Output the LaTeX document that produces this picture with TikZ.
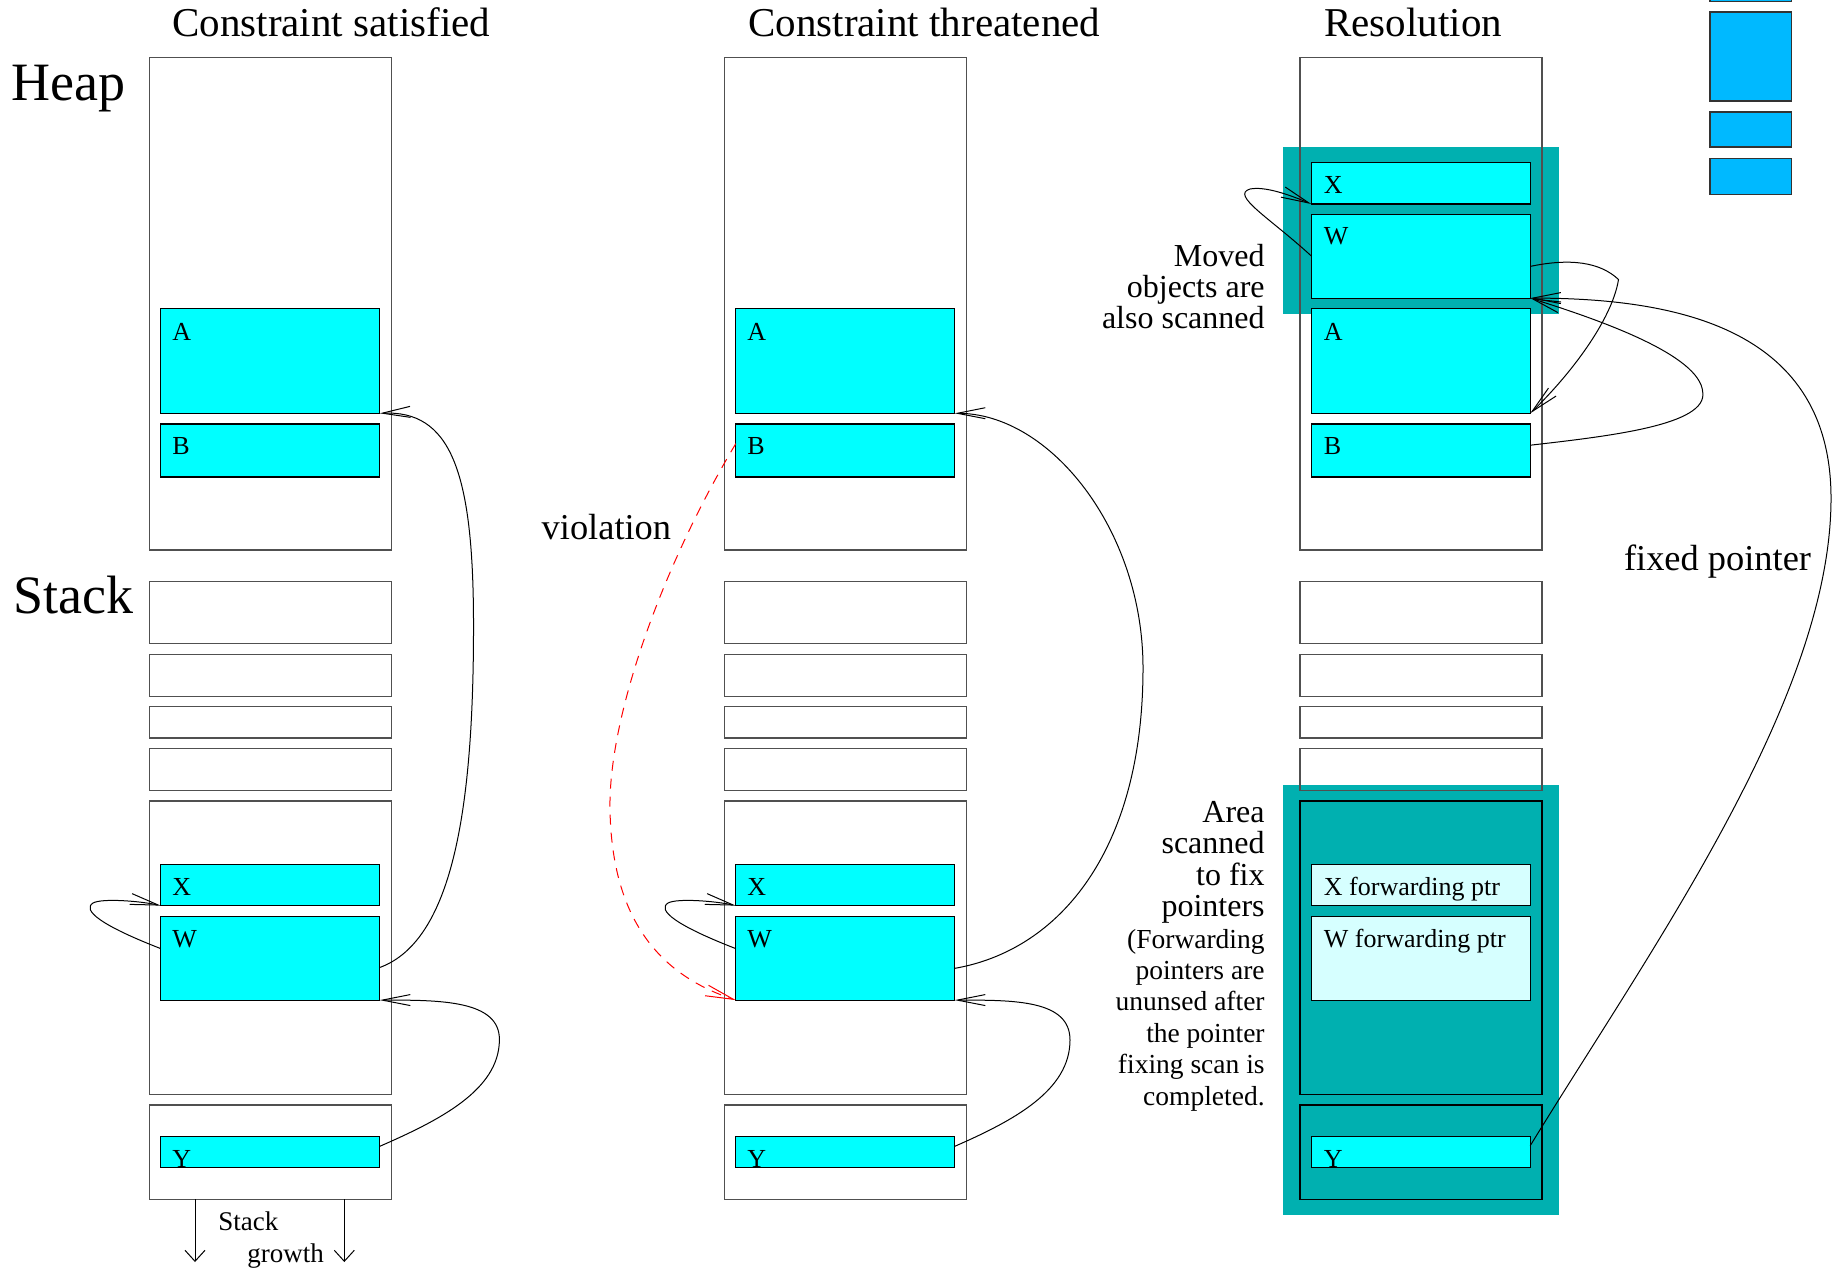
\documentclass[tikz,border=0pt]{standalone}
\usepackage{fontspec}
\setmainfont{Liberation Serif}
\usetikzlibrary{arrows.meta,fit,calc}
\definecolor{objcyan}{HTML}{00FFFF}
\definecolor{scanteal}{HTML}{00B0B0}
\definecolor{fwdcyan}{HTML}{D6FFFF}
\definecolor{legendblue}{HTML}{00B9FF}
\definecolor{cellframe}{HTML}{505050}

% one memory column: heap area and the stack frames below it
% #1 = name suffix, #2 = left edge, #3 = outline colour of the two lower frames
\newcommand\memcolumn[3]{%
  \node[cellbox, fit={(#2,57.4) ({#2+242},549.9)}] (heap#1) {};
  \node[cellbox, fit={(#2,581.3) ({#2+242},643.8)}] (sa#1) {};
  \node[cellbox, fit={(#2,654.4) ({#2+242},696.2)}] (sb#1) {};
  \node[cellbox, fit={(#2,706.8) ({#2+242},738)}] (sc#1) {};
  \node[cellbox, fit={(#2,748.6) ({#2+242},790.2)}] (sd#1) {};
  \node[cellbox, draw=#3, fit={(#2,801) ({#2+242},1094.4)}] (frame#1) {};
  \node[cellbox, draw=#3, fit={(#2,1105) ({#2+242},1199.2)}] (bottom#1) {};
}
% object box: #1 style, #2 name, #3 column left edge, #4 top, #5 bottom
\newcommand\objbox[5]{%
  \node[#1, fit={({#3+11.3},#4) ({#3+230.2},#5)}] (#2) {};
}

\begin{document}
\begin{tikzpicture}[x=0.5pt,y=-0.5pt,
  cellbox/.style={draw=cellframe, line width=0.6pt, inner sep=0pt, outer sep=0pt},
  objcell/.style={draw=black, line width=0.6pt, fill=objcyan, inner sep=0pt, outer sep=0pt},
  fwdcell/.style={objcell, fill=fwdcyan},
  legendbox/.style={draw=black!80, line width=0.6pt, fill=legendblue, inner sep=0pt, outer sep=0pt},
  zonebox/.style={fill=scanteal, inner sep=0pt, outer sep=0pt},
  lbltext/.style={anchor=base west, inner sep=0pt, font=\fontsize{13}{15}\selectfont},
  headtext/.style={anchor=base west, inner sep=0pt, font=\fontsize{20.5}{24}\selectfont},
  bigtext/.style={anchor=base west, inner sep=0pt, font=\fontsize{27}{30}\selectfont},
  midtext/.style={anchor=base west, inner sep=0pt, font=\fontsize{18.2}{21}\selectfont},
  movedtext/.style={anchor=base east, inner sep=0pt, font=\fontsize{16}{18}\selectfont},
  notetext/.style={anchor=base east, inner sep=0pt, font=\fontsize{13.75}{16}\selectfont},
  ptrline/.style={line width=0.5pt, -{Straight Barb[length=14pt,width=5.5pt]}},
  violline/.style={ptrline, red, dash pattern=on 5pt off 4pt},
  growarrow/.style={line width=0.5pt, -{Straight Barb[length=5.5pt,width=10pt]}}]
\useasboundingbox (0,0) rectangle (1839,1271);
\clip (0,0) rectangle (1839,1271);

% scanned regions of the resolution column
\node[zonebox, fit={(1283,146.6) (1559.2,313.8)}] (movedzone) {};
\node[zonebox, fit={(1283,785.3) (1559.2,1215)}] (fixzone) {};

% legend blocks
\node[legendbox, fit={(1710,-10) (1791.7,1.3)}] (leg1) {};
\node[legendbox, fit={(1710,12) (1791.7,101)}] (leg2) {};
\node[legendbox, fit={(1710,112) (1791.7,147)}] (leg3) {};
\node[legendbox, fit={(1710,158.7) (1791.7,194.3)}] (leg4) {};

% columns
\memcolumn{1}{149.5}{cellframe}
\memcolumn{2}{724.5}{cellframe}
\memcolumn{3}{1300}{black}

% objects: constraint satisfied
\objbox{objcell}{A1}{149.5}{308.4}{413.3}
\objbox{objcell}{B1}{149.5}{424}{477}
\objbox{objcell}{X1}{149.5}{864.4}{905.6}
\objbox{objcell}{W1}{149.5}{916.5}{1000.1}
\objbox{objcell}{Y1}{149.5}{1136.2}{1167.8}
% objects: constraint threatened
\objbox{objcell}{A2}{724.5}{308.4}{413.3}
\objbox{objcell}{B2}{724.5}{424}{477}
\objbox{objcell}{X2}{724.5}{864.4}{905.6}
\objbox{objcell}{W2}{724.5}{916.5}{1000.1}
\objbox{objcell}{Y2}{724.5}{1136.2}{1167.8}
% objects: resolution
\objbox{objcell}{X3}{1300}{162.2}{204}
\objbox{objcell}{W3}{1300}{214.7}{298.1}
\objbox{objcell}{A3}{1300}{308.8}{413.3}
\objbox{objcell}{B3}{1300}{424}{477}
\objbox{fwdcell}{XF3}{1300}{864.4}{905.6}
\objbox{fwdcell}{WF3}{1300}{916.5}{1000.1}
\objbox{objcell}{Y3}{1300}{1136.2}{1167.8}

% headings
\node[headtext] (t1) at (172,36.4) {Constraint satisfied};
\node[headtext] (t2) at (748,36.4) {Constraint threatened};
\node[headtext] (t3) at (1324,36.4) {Resolution};
\node[bigtext] (heaplbl) at (11.5,100) {Heap};
\node[bigtext] (stacklbl) at (13.4,613) {Stack};

% object labels
\node[lbltext] (la1) at (172,340) {A};
\node[lbltext] (lb1) at (172,454.6) {B};
\node[lbltext] (lx1) at (172,895.8) {X};
\node[lbltext] (lw1) at (172,947.7) {W};
\node[lbltext] (ly1) at (172,1167.8) {Y};
\node[lbltext] (la2) at (747,340) {A};
\node[lbltext] (lb2) at (747,454.6) {B};
\node[lbltext] (lx2) at (747,895.8) {X};
\node[lbltext] (lw2) at (747,947.7) {W};
\node[lbltext] (ly2) at (747,1167.8) {Y};
\node[lbltext] (lx3) at (1323.5,193.3) {X};
\node[lbltext] (lw3) at (1323.5,244.9) {W};
\node[lbltext] (la3) at (1323.5,340) {A};
\node[lbltext] (lb3) at (1323.5,454.6) {B};
\node[lbltext] (lxf3) at (1323.5,895.3) {X forwarding ptr};
\node[lbltext] (lwf3) at (1323.5,947.5) {W forwarding ptr};
\node[lbltext] (ly3) at (1323.5,1167.8) {Y};

% annotations
\node[midtext] (viollbl) at (541.3,539.7) {violation};
\node[midtext] (fixlbl) at (1623.6,570.2) {fixed pointer};
\node[movedtext] (mv1) at (1265,266.7) {Moved};
\node[movedtext] (mv2) at (1265,297.5) {objects are};
\node[movedtext] (mv3) at (1265,328.3) {also scanned};
\node[movedtext] (ar1) at (1265,822.5) {Area};
\node[movedtext] (ar2) at (1265,853.9) {scanned};
\node[movedtext] (ar3) at (1265,885.3) {to fix};
\node[movedtext] (ar4) at (1265,916.7) {pointers};
\node[notetext] (ar5) at (1265,948.1) {(Forwarding};
\node[notetext] (ar6) at (1265,979.5) {pointers are};
\node[notetext] (ar7) at (1265,1010.8) {ununsed after};
\node[notetext] (ar8) at (1265,1042.2) {the pointer};
\node[notetext] (ar9) at (1265,1073.6) {fixing scan is};
\node[notetext] (ar10) at (1265,1105) {completed.};
\node[lbltext, font=\fontsize{13.5}{15}\selectfont] (sg1) at (218,1230) {Stack};
\node[lbltext, font=\fontsize{13.5}{15}\selectfont] (sg2) at (247,1262) {growth};

% stack growth arrows
\coordinate (gl) at (195,1262);
\coordinate (gr) at (344.3,1262);
\draw[growarrow] (gl |- bottom1.south) -- (gl);
\draw[growarrow] (gr |- bottom1.south) -- (gr);

% pointers: constraint satisfied
\draw[ptrline] ($(W1.north east)!0.61!(W1.south east)$) .. controls (455,940) and (474,800) .. (473.5,620)
  .. controls (473,470) and (450,410) .. (A1.south east);
\draw[ptrline] ($(Y1.north east)!0.32!(Y1.south east)$) .. controls (440,1120) and (499,1090) .. (499.4,1040)
  .. controls (500,1000) and (440,1000) .. (W1.south east);
\draw[ptrline] ($(W1.north west)!0.384!(W1.south west)$) .. controls (100,925) and (82,910) .. (93,903)
  .. controls (102,898) and (140,901) .. (X1.south west);

% pointers: constraint threatened
\draw[ptrline] ($(W2.north east)!0.62!(W2.south east)$) .. controls (1060,950) and (1143,850) .. (1143,668)
  .. controls (1143,530) and (1050,413) .. (A2.south east);
\draw[ptrline] ($(Y2.north east)!0.32!(Y2.south east)$) .. controls (1015,1120) and (1070,1090) .. (1070,1040)
  .. controls (1070,1000) and (1015,1000) .. (W2.south east);
\draw[ptrline] ($(W2.north west)!0.384!(W2.south west)$) .. controls (675,925) and (657,910) .. (668,903)
  .. controls (677,898) and (715,901) .. (X2.south west);
\draw[violline] ($(B2.north west)!0.37!(B2.south west)$) .. controls (660,570) and (608,720) .. (610,810)
  .. controls (612,920) and (660,975) .. (W2.south west);

% pointers: resolution
\draw[ptrline] ($(W3.north west)!0.495!(W3.south west)$) .. controls (1270,218) and (1230,195) .. (1250,189)
  .. controls (1265,186) and (1290,195) .. (X3.south west);
\draw[ptrline] ($(W3.north east)!0.62!(W3.south east)$) .. controls (1570,258) and (1600,262) .. (1618.5,279.5)
  .. controls (1612,320) and (1570,375) .. (A3.south east);
\draw[ptrline] ($(B3.north east)!0.4!(B3.south east)$) .. controls (1610,436) and (1708,425) .. (1702.7,392)
  .. controls (1700,355) and (1600,320) .. (W3.south east);
\draw[ptrline] ($(Y3.north east)!0.3!(Y3.south east)$) .. controls (1650,950) and (1830,700) .. (1831,500)
  .. controls (1832,330) and (1680,298) .. (W3.south east);
\end{tikzpicture}
\end{document}
